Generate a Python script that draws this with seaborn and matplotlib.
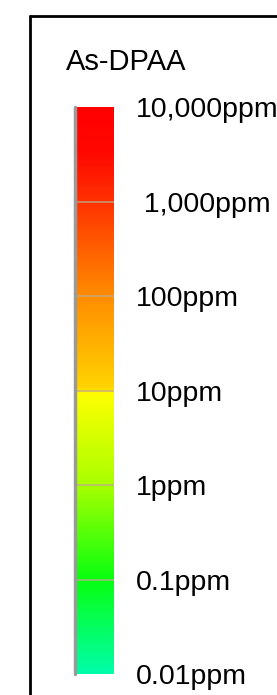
import numpy as np
import matplotlib
matplotlib.use("Agg")
import matplotlib.pyplot as plt
import seaborn as sns
from matplotlib.colors import LinearSegmentedColormap, LogNorm
from matplotlib.cm import ScalarMappable
from matplotlib.lines import Line2D

# ---------------------------
# Data: concentration levels of the legend (bottom -> top)
# ---------------------------
title = "As-DPAA"
levels = [0.01, 0.1, 1, 10, 100, 1000, 10000]
level_labels = ["0.01ppm", "0.1ppm", "1ppm", "10ppm", "100ppm", " 1,000ppm", "10,000ppm"]
# colour stops of the scale (position on 0..1 of the log range, colour)
stop_pos = [0.0, 1 / 6, 2 / 6, 0.497, 0.503, 4 / 6, 5 / 6, 0.92, 1.0]
stop_colors = ["#00fcaa", "#08ff10", "#a8ff00", "#ffff00", "#ffd400",
               "#ff8c00", "#ff3200", "#ff0800", "#ff0000"]

sns.set_theme(style="white")
plt.rcParams['font.family'] = ['Liberation Sans', 'DejaVu Sans']

W, H = 277, 695
fig = plt.figure(figsize=(W / 100, H / 100), dpi=100)
fig.patch.set_facecolor("white")

# frame (open to the right and bottom, as in the cropped original)
fig.add_artist(Line2D([29.5 / W, 29.5 / W], [0, 1 - 15.5 / H], color="black",
                      lw=2.0, transform=fig.transFigure))
fig.add_artist(Line2D([29.5 / W, 1], [1 - 15.5 / H, 1 - 15.5 / H], color="black",
                      lw=2.0, transform=fig.transFigure))

fig.text(66 / W, 1 - 62 / H, title, fontsize=21, ha="left", va="center", color="black")

# colour bar
cmap = LinearSegmentedColormap.from_list("asdpaa", list(zip(stop_pos, stop_colors)))
norm = LogNorm(vmin=levels[0], vmax=levels[-1])
cax = fig.add_axes([76 / W, 1 - 674 / H, 38 / W, 567 / H])
cb = fig.colorbar(ScalarMappable(norm=norm, cmap=cmap), cax=cax, orientation="vertical")
cb.outline.set_visible(False)
cb.set_ticks(levels)
cb.set_ticklabels(level_labels)
cb.minorticks_off()
cax.tick_params(axis="y", length=0, pad=16, labelsize=20.5, colors="black")
for v in levels[1:-1]:
    cax.axhline(v, color="#c0a890", lw=1.2, alpha=0.8)

# grey left edge of the scale
fig.add_artist(Line2D([74.5 / W, 74.5 / W], [1 - 674 / H, 1 - 107 / H], color="#9a9a9a",
                      lw=2.5, transform=fig.transFigure))

fig.savefig("out.png", dpi=100, facecolor="white")
